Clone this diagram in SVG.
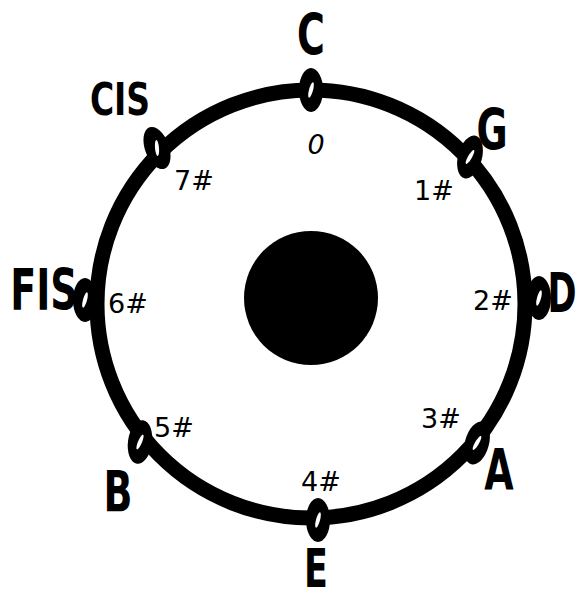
<svg xmlns="http://www.w3.org/2000/svg" width="578" height="599" viewBox="0 0 578 599">
<style>
.ring{fill:none;stroke:#000;stroke-width:15}
.note{fill:#000}
.hole{fill:#fff}
.lbl{font-family:"DejaVu Sans","Liberation Sans",sans-serif;font-weight:bold;font-size:38px;fill:#000;text-anchor:middle;text-transform:uppercase}
.num{font-family:"DejaVu Sans","Liberation Sans",sans-serif;font-size:27px;fill:#000}
</style>
<defs>
<g id="head">
<ellipse class="note" cx="0" cy="0" rx="12" ry="22"/>
<ellipse class="hole" cx="0" cy="0" rx="2" ry="8" transform="rotate(15)"/>
</g>
</defs>
<g id="connectors">
<circle class="ring" cx="311" cy="304" r="214"/>
</g>
<g id="center"><circle cx="311" cy="298" r="67" fill="#000"/></g>
<g id="C"><use href="#head" transform="translate(311,90)"/><text class="lbl" transform="translate(311,55) scale(1,1.5)">C</text><text class="num" x="316" y="154" font-style="italic" text-anchor="middle">0</text></g>
<g id="G"><use href="#head" transform="translate(470,157) rotate(15)"/><text class="lbl" transform="translate(492,150) scale(1,1.5)">G</text><text class="num" x="414" y="200">1#</text></g>
<g id="D"><use href="#head" transform="translate(539,298)"/><text class="lbl" style="font-size:35px" transform="translate(562,312) scale(1,1.55)">D</text><text class="num" x="473" y="310">2#</text></g>
<g id="A"><use href="#head" transform="translate(477,443) rotate(15)"/><text class="lbl" transform="translate(499,490) scale(1,1.5)">A</text><text class="num" x="421" y="428">3#</text></g>
<g id="E"><use href="#head" transform="translate(318,520)"/><text class="lbl" style="font-size:35px" transform="translate(316,587) scale(1,1.5)">E</text><text class="num" x="301" y="491">4#</text></g>
<g id="B"><use href="#head" transform="translate(140,442) rotate(8)"/><text class="lbl" transform="translate(118,512) scale(1,1.5)">B</text><text class="num" x="154" y="437">5#</text></g>
<g id="Fis"><use href="#head" transform="translate(85,300)"/><text class="lbl" transform="translate(44,310) scale(1,1.5)">Fis</text><text class="num" x="108" y="313">6#</text></g>
<g id="Cis"><use href="#head" transform="translate(157,148) rotate(-20)"/><text class="lbl" style="font-size:33px" transform="translate(120,115) scale(1,1.35)">Cis</text><text class="num" x="174" y="190">7#</text></g>
</svg>
